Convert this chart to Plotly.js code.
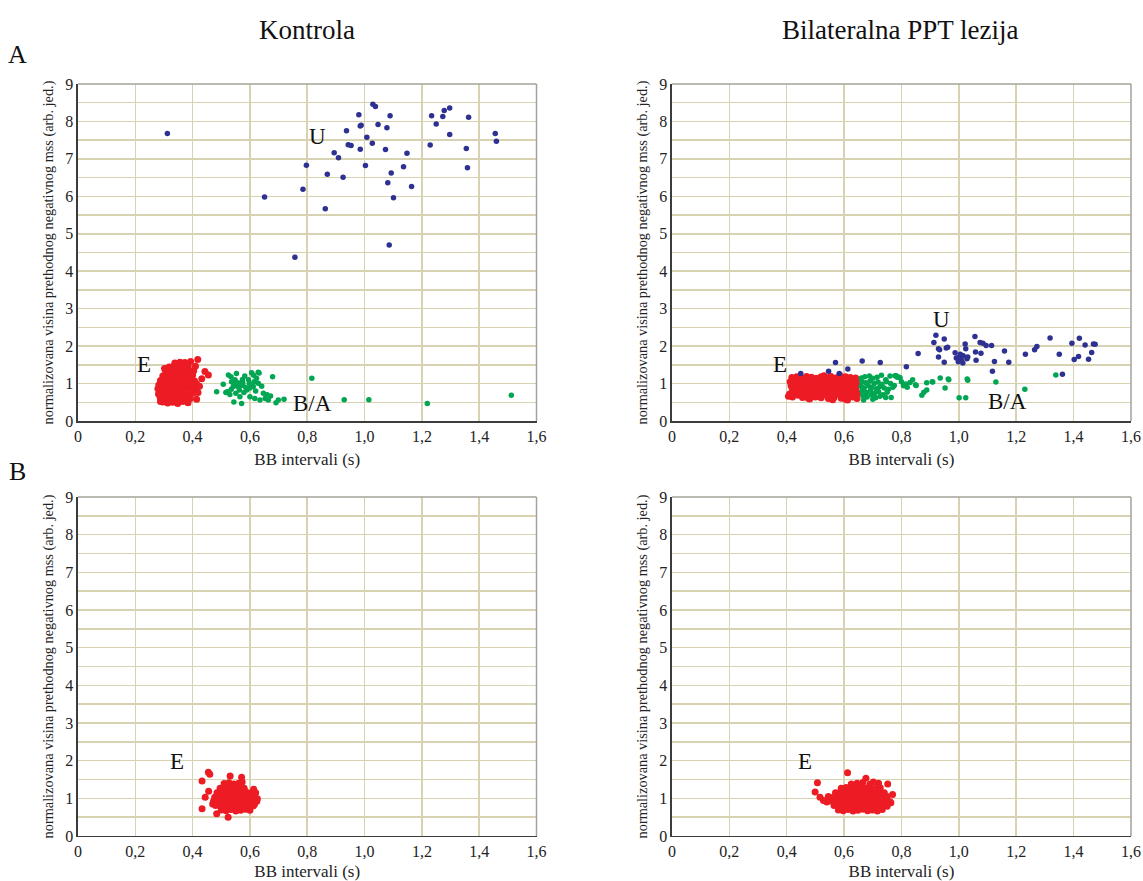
<!DOCTYPE html>
<html>
<head>
<meta charset="utf-8">
<script src="https://cdn.plot.ly/plotly-3.0.1.min.js"></script>
<style>html,body{margin:0;padding:0;background:#fff;}#chart{width:1143px;height:881px;}</style>
</head>
<body>
<div id="chart"></div>
<script>
// ---------- tick labels ----------
const xTickVals = [0, 0.2, 0.4, 0.6, 0.8, 1.0, 1.2, 1.4, 1.6];
const xTickText = ['0', '0,2', '0,4', '0,6', '0,8', '1,0', '1,2', '1,4', '1,6'];
const yTickVals = [0, 0.5, 1, 1.5, 2, 2.5, 3, 3.5, 4, 4.5, 5, 5.5, 6, 6.5, 7, 7.5, 8, 8.5, 9];
const yTickText = ['0', '', '1', '', '2', '', '3', '', '4', '', '5', '', '6', '', '7', '', '8', '', '9'];
const xTitle = 'BB intervali (s)';
const yTitle = 'normalizovana visina prethodnog negativnog mss (arb. jed.)';
const panelTitles = ['Kontrola', 'Bilateralna PPT lezija'];
const rowLabels = ['A', 'B'];

// ---------- A / Kontrola ----------
const tlBlueX = [0.312,0.651,0.757,0.785,0.797,0.863,0.870,0.894,0.909,0.925,0.937,0.943,0.953,0.980,0.985,0.988,0.985,1.003,1.008,1.027,1.029,1.038,1.047,1.073,1.078,1.081,1.086,1.089,1.093,1.101,1.136,1.148,1.164,1.229,1.234,1.250,1.273,1.278,1.297,1.297,1.355,1.359,1.363,1.456,1.460];
const tlBlueY = [7.68,5.98,4.37,6.19,6.83,5.67,6.59,7.16,7.03,6.51,7.75,7.38,7.36,8.18,7.88,7.90,7.26,6.82,7.58,7.42,8.46,8.40,7.92,7.25,7.83,6.36,4.70,8.15,6.62,5.96,6.79,7.15,6.26,7.37,8.15,7.93,8.13,8.29,8.36,7.65,7.28,6.76,8.11,7.68,7.47];

const tlGreenX = [0.484,0.507,0.525,0.553,0.521,0.530,0.548,0.556,0.565,0.574,0.582,0.571,0.589,0.598,0.606,0.612,0.623,0.629,0.629,0.641,0.600,0.617,0.647,0.653,0.664,0.679,0.672,0.691,0.699,0.719,0.635,0.542,0.536,0.563,0.579,0.551,0.565,0.570,0.585,0.600,0.615,0.595,0.555,0.575,0.620,0.535,0.545,0.516,0.544,0.534,0.632,0.613,0.660,0.816,0.929,1.015,1.219,1.512];
const tlGreenY = [0.78,0.98,1.23,1.27,0.78,0.71,1.10,0.93,1.01,1.11,1.20,0.47,0.83,1.01,1.29,0.92,1.14,1.30,1.01,0.93,0.65,0.60,0.74,0.60,0.56,1.18,0.67,0.49,0.56,0.58,0.56,0.92,1.05,0.83,0.76,0.74,0.65,0.95,0.90,0.88,1.05,1.10,1.03,1.02,0.80,0.85,0.98,0.76,0.51,1.18,1.28,1.22,0.70,1.14,0.57,0.57,0.47,0.69];

const tlRedX = [
  0.296,0.313,0.331,0.348,0.366,0.384,
  0.287,0.305,0.322,0.339,0.357,0.374,0.392,
  0.281,0.298,0.315,0.332,0.349,0.366,0.383,0.401,
  0.279,0.290,0.307,0.324,0.341,0.358,0.375,0.392,0.408,
  0.282,0.298,0.315,0.332,0.349,0.366,0.383,0.400,0.414,
  0.288,0.306,0.323,0.340,0.357,0.374,0.391,0.407,
  0.296,0.313,0.331,0.348,0.365,0.383,0.400,
  0.306,0.323,0.340,0.357,0.374,0.391,0.404,
  0.318,0.334,0.351,0.368,0.385,
  0.338,0.356,0.373,0.393,
  0.418,0.443,0.455,0.432,0.424,0.419,0.414,0.302,0.410,0.288,0.380];
const tlRedY = [
  0.51,0.48,0.50,0.47,0.52,0.49,
  0.62,0.60,0.63,0.59,0.61,0.64,0.60,
  0.72,0.74,0.71,0.75,0.72,0.73,0.70,0.74,
  0.86,0.83,0.87,0.84,0.86,0.85,0.87,0.84,0.86,
  0.96,0.98,0.95,0.99,0.97,0.96,0.98,0.95,0.99,
  1.08,1.10,1.07,1.11,1.09,1.08,1.10,1.07,
  1.20,1.22,1.19,1.23,1.21,1.20,1.22,
  1.32,1.34,1.31,1.35,1.33,1.32,1.34,
  1.44,1.46,1.43,1.47,1.45,
  1.55,1.57,1.56,1.59,
  1.64,1.32,1.23,1.13,0.93,0.76,0.58,1.40,1.46,0.52,1.52];

// ---------- A / Bilateralna PPT lezija ----------
const trBlueX = [0.449,0.570,0.546,0.583,0.613,0.663,0.726,0.817,0.858,0.920,0.913,0.949,0.929,0.933,0.956,0.961,0.929,0.949,0.987,0.991,1.005,1.009,1.014,1.022,1.024,1.028,1.031,1.056,1.058,1.060,1.074,1.077,1.084,1.095,1.114,1.117,1.124,1.159,1.174,1.232,1.264,1.272,1.318,1.350,1.361,1.394,1.402,1.417,1.420,1.440,1.452,1.463,1.469,1.475,1.000,1.015,0.998];
const trBlueY = [1.27,1.56,1.33,1.27,1.39,1.60,1.56,1.45,1.80,2.29,2.10,2.19,1.93,1.90,1.95,1.97,1.71,1.57,1.82,1.68,1.78,1.62,1.55,2.06,1.93,1.66,1.71,2.26,1.84,1.62,2.10,1.81,2.08,2.02,2.02,1.33,1.59,1.87,1.57,1.78,1.90,1.99,2.22,1.78,1.25,2.08,1.64,1.72,2.21,2.03,1.65,1.83,2.06,2.05,1.70,1.74,1.58];

const trGreenX = [
  0.660,0.672,0.688,0.700,0.715,0.730,0.745,0.760,0.777,0.785,0.795,
  0.662,0.675,0.690,0.705,0.718,0.732,0.748,0.762,0.775,
  0.660,0.670,0.684,0.697,0.712,0.725,0.740,0.755,0.770,
  0.663,0.678,0.692,0.706,0.720,0.735,0.750,
  0.665,0.680,0.695,0.710,0.725,0.745,0.764,
  0.668,0.700,
  0.807,0.815,0.830,0.839,0.851,0.871,0.878,0.888,0.888,0.909,0.935,0.952,0.965,1.001,1.024,1.031,1.129,1.338,1.230,0.793,0.782,0.820,0.800,0.849,0.907,0.963,1.029];
const trGreenY = [
  1.15,1.18,1.20,1.14,1.17,1.22,1.10,1.20,1.21,1.17,1.15,
  1.05,1.02,1.07,1.00,1.04,0.98,1.05,1.00,0.95,
  0.92,0.88,0.94,0.90,0.86,0.92,0.88,0.85,0.90,
  0.80,0.76,0.82,0.74,0.79,0.70,0.77,
  0.68,0.64,0.70,0.62,0.66,0.63,0.63,
  0.56,0.58,
  0.94,0.99,1.03,1.10,0.95,0.69,0.77,0.83,1.02,1.04,1.15,0.88,1.10,0.62,0.62,1.09,1.04,1.23,0.85,1.17,1.21,0.90,1.05,0.97,1.05,1.12,1.12];

const trRedX = [
  0.418,0.435,0.452,0.469,0.486,0.503,0.520,0.537,0.554,0.571,0.588,0.605,0.622,0.640,
  0.412,0.427,0.444,0.461,0.478,0.495,0.512,0.529,0.546,0.563,0.580,0.597,0.614,0.631,0.647,
  0.415,0.432,0.449,0.466,0.483,0.500,0.517,0.534,0.551,0.568,0.585,0.602,0.619,0.636,0.648,
  0.420,0.437,0.454,0.471,0.488,0.505,0.522,0.539,0.556,0.573,0.590,0.607,0.624,0.641,
  0.410,0.428,0.445,0.462,0.479,0.496,0.513,0.530,0.547,0.564,0.581,0.598,0.615,0.632,0.647,
  0.406,0.420,0.455,0.475,0.500,0.520,0.545,0.565,0.590,0.605,0.630,0.645,
  0.560,0.612,0.480,0.440,0.530,0.585];
const trRedY = [
  1.16,1.18,1.15,1.19,1.17,1.14,1.18,1.16,1.19,1.15,1.17,1.18,1.16,1.15,
  1.05,1.07,1.04,1.08,1.06,1.05,1.07,1.04,1.06,1.08,1.05,1.07,1.04,1.06,1.05,
  0.94,0.96,0.93,0.97,0.95,0.94,0.96,0.93,0.97,0.95,0.94,0.96,0.93,0.95,0.97,
  0.83,0.85,0.82,0.86,0.84,0.83,0.85,0.82,0.86,0.84,0.83,0.85,0.82,0.85,
  0.72,0.74,0.71,0.75,0.73,0.72,0.74,0.71,0.75,0.73,0.72,0.74,0.71,0.73,0.75,
  0.66,0.64,0.63,0.61,0.64,0.62,0.60,0.63,0.61,0.58,0.64,0.60,
  0.57,0.56,0.59,0.69,1.21,1.22];

// ---------- B / Kontrola ----------
const blRedX = [
  0.500,0.517,0.534,0.551,0.568,0.585,
  0.480,0.497,0.514,0.531,0.548,0.565,0.582,0.599,0.612,
  0.473,0.490,0.507,0.524,0.541,0.558,0.575,0.592,0.609,0.624,
  0.477,0.494,0.511,0.528,0.545,0.562,0.579,0.596,0.613,
  0.485,0.502,0.519,0.536,0.553,0.570,0.587,0.604,
  0.496,0.513,0.530,0.547,0.564,0.580,
  0.510,0.527,0.544,0.561,
  0.455,0.460,0.433,0.433,0.456,0.444,0.484,0.524,0.531,0.571,0.573,0.613,0.620,0.626,0.616,0.600,0.470];
const blRedY = [
  0.69,0.67,0.70,0.66,0.68,0.71,
  0.81,0.79,0.82,0.78,0.80,0.81,0.79,0.82,0.80,
  0.92,0.94,0.91,0.93,0.92,0.90,0.94,0.91,0.93,0.92,
  1.03,1.05,1.02,1.06,1.04,1.03,1.05,1.02,1.04,
  1.15,1.17,1.14,1.18,1.16,1.15,1.17,1.14,
  1.27,1.29,1.26,1.30,1.28,1.27,
  1.39,1.41,1.38,1.40,
  1.69,1.64,1.46,0.72,1.19,1.03,0.59,0.50,1.59,1.56,1.43,1.24,1.15,0.99,0.84,0.68,0.85];

// ---------- B / Bilateralna PPT lezija ----------
const brRedX = [
  0.580,0.597,0.614,0.631,0.648,0.665,0.682,0.699,0.716,0.733,
  0.565,0.582,0.599,0.616,0.633,0.650,0.667,0.684,0.701,0.718,0.735,0.750,
  0.558,0.575,0.592,0.609,0.626,0.643,0.660,0.677,0.694,0.711,0.728,0.745,0.760,
  0.562,0.580,0.597,0.614,0.631,0.648,0.665,0.682,0.699,0.716,0.733,0.750,
  0.570,0.587,0.604,0.621,0.638,0.655,0.672,0.689,0.706,0.723,0.740,
  0.590,0.607,0.624,0.641,0.658,0.675,0.692,0.709,0.726,
  0.625,0.645,0.665,0.690,
  0.507,0.499,0.516,0.528,0.540,0.612,0.676,0.702,0.752,0.769,0.763,0.720,0.545];
const brRedY = [
  0.69,0.67,0.70,0.66,0.68,0.71,0.67,0.69,0.66,0.70,
  0.81,0.79,0.82,0.78,0.80,0.81,0.79,0.82,0.80,0.78,0.81,0.79,
  0.92,0.94,0.91,0.93,0.92,0.90,0.94,0.91,0.93,0.92,0.90,0.93,0.91,
  1.03,1.05,1.02,1.06,1.04,1.03,1.05,1.02,1.04,1.06,1.03,1.05,
  1.15,1.17,1.14,1.18,1.16,1.15,1.17,1.14,1.16,1.18,1.15,
  1.27,1.29,1.26,1.30,1.28,1.27,1.29,1.26,1.28,
  1.38,1.40,1.42,1.37,
  1.41,1.17,1.03,0.94,0.90,1.68,1.53,1.43,1.38,1.10,0.88,1.40,1.05];

// ---------- cluster labels ----------
const clusterLabels = [
  {t: 'U', x: 0.837, y: 7.59, ax: 'x', ay: 'y'},
  {t: 'E', x: 0.229, y: 1.51, ax: 'x', ay: 'y'},
  {t: 'B/A', x: 0.820, y: 0.47, ax: 'x', ay: 'y'},
  {t: 'U', x: 0.939, y: 2.72, ax: 'x2', ay: 'y2'},
  {t: 'E', x: 0.376, y: 1.51, ax: 'x2', ay: 'y2'},
  {t: 'B/A', x: 1.168, y: 0.52, ax: 'x2', ay: 'y2'},
  {t: 'E', x: 0.345, y: 1.97, ax: 'x3', ay: 'y3'},
  {t: 'E', x: 0.464, y: 1.97, ax: 'x4', ay: 'y4'}
];

// ---------- styling ----------
const FONT = "'Liberation Serif', 'Times New Roman', serif";
const RED = '#ed1c24', GREEN = '#00a651', BLUE = '#2e3192';
const GRID = '#d7d3b2';

function pts(x, y, color, size, xa, ya) {
  return {type: 'scatter', mode: 'markers', x: x, y: y, xaxis: xa, yaxis: ya,
    marker: {color: color, size: size, line: {width: 0}}, hoverinfo: 'skip', showlegend: false};
}

const data = [
  pts(tlRedX, tlRedY, RED, 7, 'x', 'y'),
  pts(tlGreenX, tlGreenY, GREEN, 5.5, 'x', 'y'),
  pts(tlBlueX, tlBlueY, BLUE, 5.5, 'x', 'y'),
  pts(trRedX, trRedY, RED, 7, 'x2', 'y2'),
  pts(trGreenX, trGreenY, GREEN, 5.5, 'x2', 'y2'),
  pts(trBlueX, trBlueY, BLUE, 5.5, 'x2', 'y2'),
  pts(blRedX, blRedY, RED, 7, 'x3', 'y3'),
  pts(brRedX, brRedY, RED, 7, 'x4', 'y4')
];

const colL = [0.0682, 0.4694], colR = [0.5879, 0.9895];
const rowT = [0.5221, 0.9047], rowB = [0.0511, 0.4359];

function xax(dom, anchor) {
  return {domain: dom, anchor: anchor, range: [0, 1.6], tickmode: 'array', tickvals: xTickVals, ticktext: xTickText,
    showgrid: true, gridcolor: GRID, gridwidth: 1.5, zeroline: false, showline: true, linecolor: '#3c3c3c', linewidth: 1.5,
    ticks: '', tickfont: {family: FONT, size: 16, color: '#222'}, fixedrange: true,
    title: {text: xTitle, font: {family: FONT, size: 17, color: '#222'}, standoff: 9}};
}
function yax(dom, anchor) {
  return {domain: dom, anchor: anchor, range: [0, 9], tickmode: 'array', tickvals: yTickVals, ticktext: yTickText,
    showgrid: true, gridcolor: GRID, gridwidth: 1.5, zeroline: false, showline: true, linecolor: '#3c3c3c', linewidth: 1.5,
    ticks: '', tickfont: {family: FONT, size: 16, color: '#222'}, fixedrange: true,
    title: {text: yTitle, font: {family: FONT, size: 14.3, color: '#222'}, standoff: 8}};
}

const shapes = [];
[['x', 'y'], ['x2', 'y2'], ['x3', 'y3'], ['x4', 'y4']].forEach(function (p) {
  shapes.push({type: 'line', xref: p[0] + ' domain', yref: p[1] + ' domain', x0: 0, x1: 1, y0: 1, y1: 1, line: {color: '#a3a39a', width: 1.5}});
  shapes.push({type: 'line', xref: p[0] + ' domain', yref: p[1] + ' domain', x0: 1, x1: 1, y0: 0, y1: 1, line: {color: '#a3a39a', width: 1.5}});
});

function paperText(t, x, y, size) {
  return {text: t, xref: 'paper', yref: 'paper', x: x, y: y, xanchor: 'center', yanchor: 'middle',
    showarrow: false, font: {family: FONT, size: size, color: '#111'}};
}
const annotations = [
  paperText(panelTitles[0], 0.2686, 0.966, 27),
  paperText(panelTitles[1], 0.7874, 0.966, 27),
  paperText(rowLabels[0], 0.0157, 0.9376, 26),
  paperText(rowLabels[1], 0.0157, 0.4643, 26)
];
clusterLabels.forEach(function (c) {
  annotations.push({text: c.t, xref: c.ax, yref: c.ay, x: c.x, y: c.y, xanchor: 'center', yanchor: 'middle',
    showarrow: false, font: {family: FONT, size: 23, color: '#111'}});
});

const layout = {
  width: 1143, height: 881,
  margin: {l: 0, r: 0, t: 0, b: 0},
  paper_bgcolor: '#ffffff', plot_bgcolor: '#ffffff',
  font: {family: FONT, color: '#222'},
  showlegend: false,
  xaxis: xax(colL, 'y'), yaxis: yax(rowT, 'x'),
  xaxis2: xax(colR, 'y2'), yaxis2: yax(rowT, 'x2'),
  xaxis3: xax(colL, 'y3'), yaxis3: yax(rowB, 'x3'),
  xaxis4: xax(colR, 'y4'), yaxis4: yax(rowB, 'x4'),
  shapes: shapes,
  annotations: annotations
};

Plotly.newPlot('chart', data, layout, {displayModeBar: false, staticPlot: true});
</script>
</body>
</html>
